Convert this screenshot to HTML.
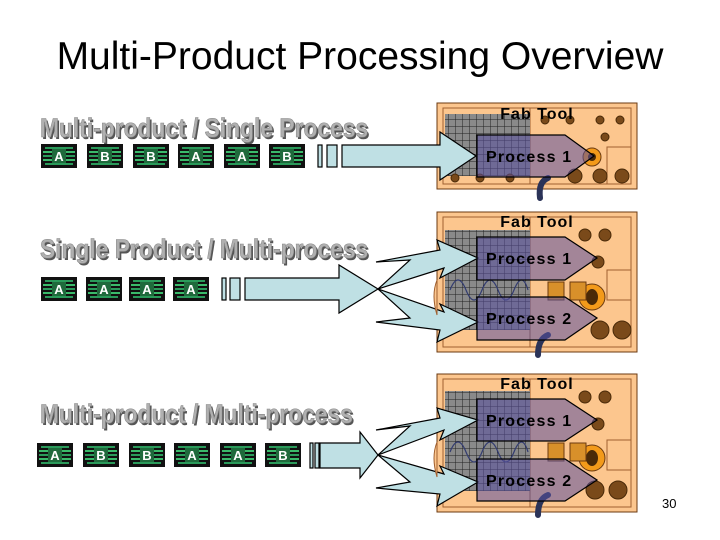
<!DOCTYPE html>
<html><head><meta charset="utf-8"><style>
html,body{margin:0;padding:0;background:#fff;}
svg{display:block}
.h{font-family:"Liberation Sans",sans-serif;font-weight:bold;font-size:27px;fill:#b0b0b0;stroke:#888;stroke-width:0.6}
.hs{font-family:"Liberation Sans",sans-serif;font-weight:bold;font-size:27px;fill:#555}
.c{font-family:"Liberation Sans",sans-serif;font-weight:bold;font-size:13px;fill:#fff}
.p{font-family:"Liberation Sans",sans-serif;font-weight:bold;font-size:16px;fill:#000;letter-spacing:1.2px}
.f{font-family:"Liberation Sans",sans-serif;font-weight:bold;font-size:16px;fill:#000;letter-spacing:1px}
</style></head><body>
<svg width="720" height="540" viewBox="0 0 720 540" xmlns="http://www.w3.org/2000/svg">
<defs>
<pattern id="grid" width="7" height="7" patternUnits="userSpaceOnUse"><rect width="7" height="7" fill="#8a8a8a"/><path d="M0 0H7M0 0V7" stroke="#222" stroke-width="1"/></pattern>
<g id="chip"><rect x="0" y="0" width="36" height="24" fill="#111"/>
<rect x="4" y="3" width="28" height="2" fill="#2a9a5a"/><rect x="2" y="7" width="32" height="2" fill="#3aba6a"/><rect x="2" y="11" width="32" height="2" fill="#2a9a5a"/><rect x="2" y="15" width="32" height="2" fill="#3aba6a"/><rect x="4" y="19" width="28" height="2" fill="#2a9a5a"/>
<rect x="11" y="5" width="14" height="14" fill="#1f6a3c"/></g>
</defs>
<text x="360" y="69" text-anchor="middle" font-family="Liberation Sans,sans-serif" font-size="39" fill="#000">Multi-Product Processing Overview</text>

<g transform="translate(40,137) scale(0.845,1)"><text class="hs" x="2" y="2">Multi-product / Single Process</text><text class="h" x="0" y="0">Multi-product / Single Process</text></g>
<g transform="translate(40,258) scale(0.845,1)"><text class="hs" x="2" y="2">Single Product / Multi-process</text><text class="h" x="0" y="0">Single Product / Multi-process</text></g>
<g transform="translate(40,423) scale(0.845,1)"><text class="hs" x="2" y="2">Multi-product / Multi-process</text><text class="h" x="0" y="0">Multi-product / Multi-process</text></g>

<g transform="translate(41,144)"><use href="#chip"/><text class="c" x="18" y="17" text-anchor="middle">A</text></g>
<g transform="translate(87,144)"><use href="#chip"/><text class="c" x="18" y="17" text-anchor="middle">B</text></g>
<g transform="translate(133,144)"><use href="#chip"/><text class="c" x="18" y="17" text-anchor="middle">B</text></g>
<g transform="translate(178,144)"><use href="#chip"/><text class="c" x="18" y="17" text-anchor="middle">A</text></g>
<g transform="translate(224,144)"><use href="#chip"/><text class="c" x="18" y="17" text-anchor="middle">A</text></g>
<g transform="translate(269,144)"><use href="#chip"/><text class="c" x="18" y="17" text-anchor="middle">B</text></g>
<g transform="translate(41,277)"><use href="#chip"/><text class="c" x="18" y="17" text-anchor="middle">A</text></g>
<g transform="translate(86,277)"><use href="#chip"/><text class="c" x="18" y="17" text-anchor="middle">A</text></g>
<g transform="translate(129,277)"><use href="#chip"/><text class="c" x="18" y="17" text-anchor="middle">A</text></g>
<g transform="translate(173,277)"><use href="#chip"/><text class="c" x="18" y="17" text-anchor="middle">A</text></g>
<g transform="translate(37,443)"><use href="#chip"/><text class="c" x="18" y="17" text-anchor="middle">A</text></g>
<g transform="translate(83,443)"><use href="#chip"/><text class="c" x="18" y="17" text-anchor="middle">B</text></g>
<g transform="translate(129,443)"><use href="#chip"/><text class="c" x="18" y="17" text-anchor="middle">B</text></g>
<g transform="translate(174,443)"><use href="#chip"/><text class="c" x="18" y="17" text-anchor="middle">A</text></g>
<g transform="translate(220,443)"><use href="#chip"/><text class="c" x="18" y="17" text-anchor="middle">A</text></g>
<g transform="translate(265,443)"><use href="#chip"/><text class="c" x="18" y="17" text-anchor="middle">B</text></g>

<g stroke="#6b3a10" stroke-width="1">
<rect x="437" y="103" width="200" height="86" fill="#fcc68e"/>
<rect x="437" y="212" width="200" height="140" fill="#fcc68e"/>
<rect x="437" y="374" width="200" height="138" fill="#fcc68e"/>
</g>
<g fill="none" stroke="#a06030" stroke-width="1">
<rect x="443" y="108" width="188" height="76"/><rect x="443" y="217" width="188" height="130"/><rect x="443" y="379" width="188" height="128"/>
<path d="M530 108V184M530 217V347M530 379V507"/>
<path d="M607 147H631V184H607Z M607 270H631V300H607Z M607 440H631V470H607Z"/>
</g>
<rect x="445" y="114" width="85" height="62" fill="url(#grid)"/>
<rect x="445" y="230" width="85" height="100" fill="url(#grid)"/>
<rect x="445" y="391" width="85" height="100" fill="url(#grid)"/>
<g fill="#7a4a1a" stroke="#4a2a08">
<circle cx="545" cy="120" r="4"/><circle cx="570" cy="120" r="4"/><circle cx="600" cy="120" r="4"/><circle cx="620" cy="120" r="4"/><circle cx="605" cy="137" r="4"/>
<circle cx="455" cy="178" r="4"/><circle cx="480" cy="178" r="4"/><circle cx="510" cy="178" r="4"/>
<circle cx="575" cy="176" r="7"/><circle cx="600" cy="176" r="7"/><circle cx="622" cy="176" r="7"/>
<circle cx="585" cy="235" r="6"/><circle cx="605" cy="235" r="6"/><circle cx="598" cy="262" r="6"/>
<circle cx="600" cy="330" r="9"/><circle cx="622" cy="330" r="9"/>
<circle cx="585" cy="397" r="6"/><circle cx="605" cy="397" r="6"/><circle cx="598" cy="424" r="6"/>
<circle cx="595" cy="490" r="9"/><circle cx="618" cy="490" r="9"/>
</g>
<g fill="#f39a1a" stroke="#6b3a10"><circle cx="592" cy="157" r="9"/><circle cx="592" cy="297" r="13"/><circle cx="592" cy="458" r="13"/></g>
<g fill="#4a2a08"><circle cx="592" cy="157" r="4"/><ellipse cx="592" cy="297" rx="6" ry="8"/><ellipse cx="592" cy="458" rx="6" ry="8"/></g>
<g fill="#d8902a" stroke="#6b3a10"><rect x="548" y="282" width="16" height="18"/><rect x="570" y="282" width="16" height="18"/><rect x="548" y="443" width="16" height="18"/><rect x="570" y="443" width="16" height="18"/></g>
<g fill="none" stroke="#333c70" stroke-width="1.2">
<path d="M450 290 q8 -20 16 0 t16 0 t16 0 t16 0 t14 0"/>
<path d="M450 452 q8 -20 16 0 t16 0 t16 0 t16 0 t14 0"/>
</g>
<g fill="none" stroke="#2b3358" stroke-width="6" stroke-linecap="round">
<path d="M548 178 q-10 4 -8 20"/><path d="M548 335 q-10 4 -10 20"/><path d="M548 495 q-10 4 -10 20"/>
</g>
<text class="f" x="537" y="119" text-anchor="middle">Fab Tool</text>
<text class="f" x="537" y="227" text-anchor="middle">Fab Tool</text>
<text class="f" x="537" y="389" text-anchor="middle">Fab Tool</text>

<g fill="#bfe0e4" stroke="#000" stroke-width="1.2">
<rect x="318" y="145" width="4" height="22"/><rect x="327" y="145" width="10" height="22"/>
<path d="M342 145H440V132L476 156L440 180V167H342Z"/>
<rect x="222" y="278" width="4" height="22"/><rect x="230" y="278" width="10" height="22"/>
<path d="M245 278H339V265L378 289L339 313V300H245Z"/>
<rect x="310" y="443" width="3" height="25"/><rect x="315" y="443" width="4" height="25"/>
<path d="M320 443H360V432L378 455L360 478V468H320Z"/>
<path d="M378 289L410 260L376 262L440 250L437 240L478 258L440 278L444 268L378 289Z"/>
<path d="M378 289L410 318L376 322L440 330L437 342L478 322L440 304L444 312L378 289Z"/>
<path d="M378 455L410 426L376 430L440 418L437 408L478 420L440 440L444 430L378 455Z"/>
<path d="M378 455L410 482L376 488L440 494L437 506L478 482L440 466L444 474L378 455Z"/>
</g>
<g fill="#fcc68e" stroke="#a06030"><path d="M437 280q-6 15 0 35z"/><path d="M437 442q-6 15 0 35z"/></g>

<g fill="rgba(90,80,160,0.55)" stroke="#000" stroke-width="1.2">
<path d="M477 135H565L594 156L565 177H477Z"/>
<path d="M477 237H565L597 258L565 280H477Z"/>
<path d="M477 297H565L597 318L565 340H477Z"/>
<path d="M477 399H565L597 420L565 441H477Z"/>
<path d="M477 459H565L597 480L565 501H477Z"/>
</g>
<text class="p" x="486" y="162">Process 1</text>
<text class="p" x="486" y="264">Process 1</text>
<text class="p" x="486" y="324">Process 2</text>
<text class="p" x="486" y="426">Process 1</text>
<text class="p" x="486" y="486">Process 2</text>

<text x="662" y="508" font-family="Liberation Sans,sans-serif" font-size="13" fill="#000">30</text>
</svg>
</body></html>
